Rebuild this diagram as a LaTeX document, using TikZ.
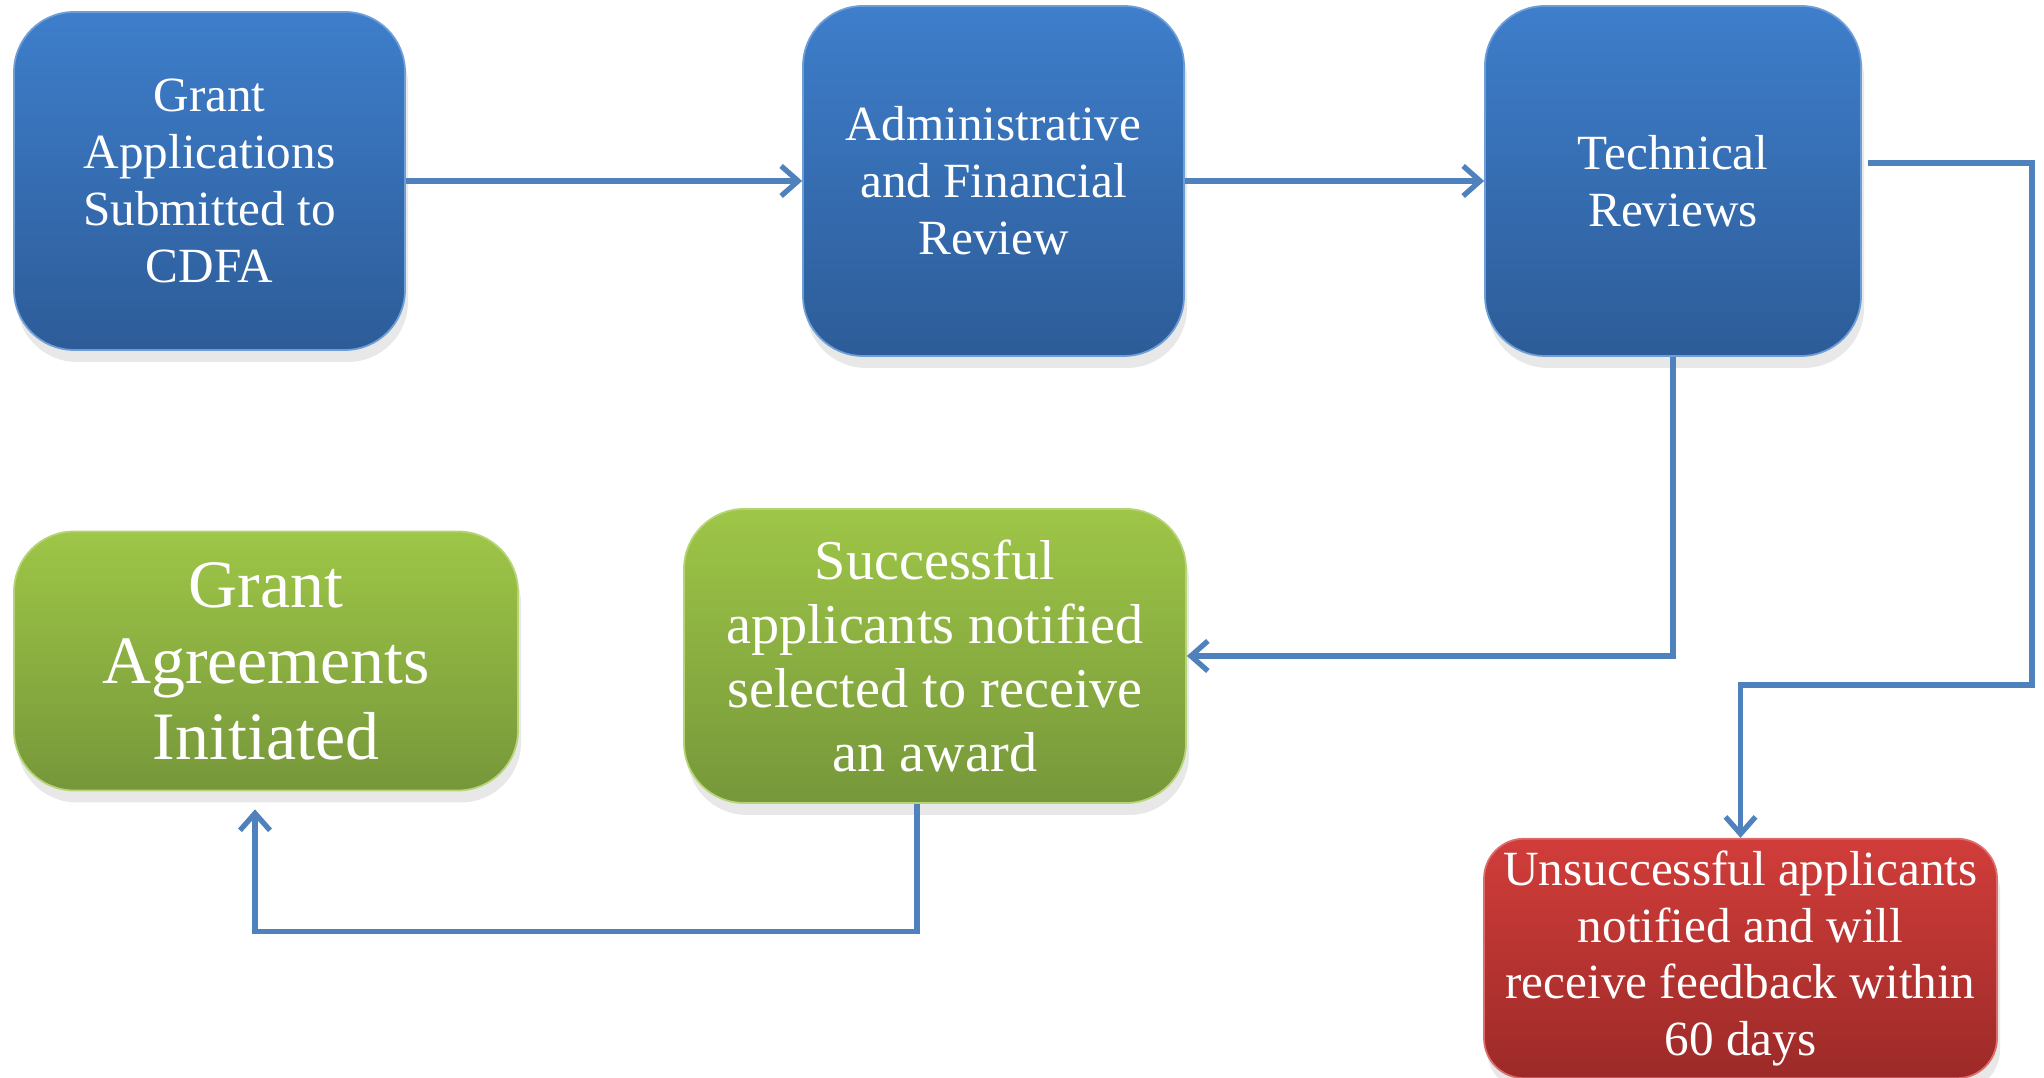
\documentclass[tikz,border=0pt]{standalone}
\usepackage{fontspec}
\setmainfont{Liberation Serif}
\usepackage{xcolor}
\usepackage{tikz}
\usetikzlibrary{positioning,shapes,arrows.meta,calc,shadows}

\definecolor{bluetop}{HTML}{3E7ECB}
\definecolor{bluebot}{HTML}{2D5C98}
\definecolor{greentop}{HTML}{9EC647}
\definecolor{greenbot}{HTML}{76973A}
\definecolor{redtop}{HTML}{D13D3A}
\definecolor{redbot}{HTML}{9C2A28}
\definecolor{flowline}{HTML}{4F81BD}

\begin{document}
\begin{tikzpicture}[
  stepnode/.style={rectangle, rounded corners=0.6cm, align=center, text=white,
    draw=#1top!75!white, line width=0.5pt, top color=#1top, bottom color=#1bot,
    drop shadow={opacity=0.18, shadow xshift=0.3mm, shadow yshift=-1.2mm}},
  flow/.style={draw=flowline, line width=1.5pt,
    -{Straight Barb[length=1.7mm, width=3mm, line width=1.5pt]}},
  bigfont/.style={font=\fontsize{14}{16.2}\selectfont}]
  \useasboundingbox (0,0) rectangle (20.44,10.78);

\node (apps) at (2.095,8.97) [stepnode=blue, bigfont, minimum width=3.91cm, minimum height=3.38cm] {Grant\\Applications\\Submitted to\\CDFA};

\node (admin) at (9.935,8.97) [stepnode=blue, bigfont, minimum width=3.81cm, minimum height=3.5cm] {Administrative\\and Financial\\Review};

\node (tech) at (16.73,8.97) [stepnode=blue, bigfont, minimum width=3.76cm, minimum height=3.5cm] {Technical\\Reviews};

\node (agree) at (2.66,4.17) [stepnode=green, font=\fontsize{19.3}{21.6}\selectfont, minimum width=5.04cm, minimum height=2.59cm] {Grant\\Agreements\\Initiated};

\node (succ) at (9.35,4.22) [stepnode=green, font=\fontsize{16}{18.2}\selectfont, minimum width=5.02cm, minimum height=2.94cm] {Successful\\applicants notified\\selected to receive\\an award};

\node (unsucc) at (17.405,1.195) [stepnode=red, rounded corners=0.4cm, bigfont, minimum width=5.13cm, minimum height=2.37cm] {Unsuccessful applicants\\notified and will\\receive feedback within\\60 days};

  % connectors
  \coordinate (rturn) at (20.32,3.93);
  \draw[flow] (apps) -- (admin);
  \draw[flow] (admin) -- (tech);
  \draw[flow] ([xshift=0.6mm,yshift=1.8mm]tech.east) -| (rturn) -| (unsucc.north);
  \draw[flow] (tech.south) |- (succ.east);
  \draw[flow] ([xshift=-1.8mm]succ.south) -- ++(0,-1.28) -| ([xshift=-1.1mm,yshift=-1.8mm]agree.south);
\end{tikzpicture}
\end{document}
